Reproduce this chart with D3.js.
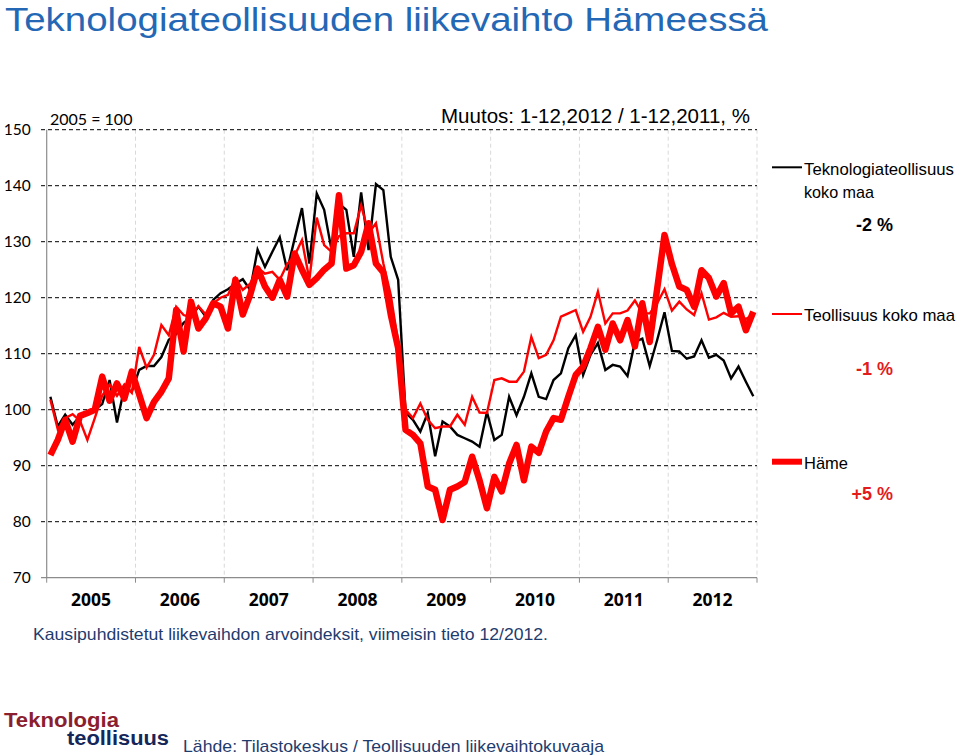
<!DOCTYPE html>
<html><head><meta charset="utf-8">
<script src="https://cdn.jsdelivr.net/npm/d3@7"></script>
<style>body{margin:0;background:#fff}svg{display:block}</style>
</head><body><svg id="c" width="960" height="756"></svg>
<script>
const years = [2005, 2006, 2007, 2008, 2009, 2010, 2011, 2012];
const yTicks = [70, 80, 90, 100, 110, 120, 130, 140, 150];
const months = years.flatMap(y => d3.range(1, 13).map(m => y + "-" + m));

const tek = [
  102.3, 97.0, 99.1, 97.3, 98.9, 99.5, 100.0, 101.0, 105.3, 97.7, 104.0, 103.2,
  107.1, 107.8, 107.8, 109.4, 112.5, 113.5, 115.5, 116.5, 118.4, 116.6, 119.6, 120.8,
  121.5, 122.5, 123.3, 121.4, 128.6, 125.5, 128.2, 130.8, 124.9, 130.5, 136.0, 126.1,
  138.6, 135.7, 128.5, 136.8, 135.7, 127.3, 138.8, 128.5, 140.3, 139.2, 127.3, 123.2,
  99.5, 98.2, 96.1, 99.4, 91.7, 97.9, 97.0, 95.5, 94.9, 94.3, 93.4, 99.6,
  94.6, 95.5, 102.3, 99.0, 102.3, 106.5, 102.3, 101.9, 105.3, 106.5, 111.0, 113.3,
  106.2, 109.8, 111.9, 107.1, 108.0, 107.7, 106.0, 112.1, 112.7, 107.8, 112.4, 117.4,
  110.5, 110.4, 109.1, 109.5, 112.4, 109.3, 109.8, 108.8, 105.6, 107.7, 105.0, 102.4
];
const teoll = [
  101.8, 96.5, 98.5, 99.2, 98.0, 94.6, 98.5, 102.5, 104.5, 102.5, 104.5, 103.0,
  111.2, 107.5, 109.8, 115.1, 113.3, 118.4, 116.9, 116.5, 118.5, 117.0, 119.0, 120.0,
  120.5, 123.5, 121.4, 122.5, 125.4, 124.3, 124.6, 123.2, 126.0, 127.5, 130.3, 123.2,
  134.3, 129.4, 128.2, 131.0, 131.5, 131.5, 136.5, 131.5, 133.3, 126.1, 120.5, 112.0,
  100.0, 98.5, 101.1, 98.2, 96.7, 97.0, 97.0, 99.1, 97.3, 102.3, 99.5, 99.4,
  105.3, 105.6, 105.0, 105.0, 106.8, 113.0, 109.2, 109.8, 112.4, 116.6, 117.2, 117.8,
  113.9, 116.6, 121.1, 115.4, 117.2, 117.2, 117.7, 119.5, 117.2, 117.2, 119.0, 121.5,
  117.7, 119.3, 117.9, 116.9, 120.8, 116.1, 116.5, 117.3, 116.6, 116.7, 116.2, 117.0
];
const hame = [
  91.9, 94.6, 98.2, 94.3, 98.9, 99.4, 100.0, 105.9, 101.6, 104.7, 102.0, 106.8,
  102.7, 98.5, 101.4, 103.2, 105.6, 117.8, 110.4, 119.3, 114.5, 116.3, 119.0, 118.4,
  114.5, 123.2, 117.0, 120.5, 125.2, 122.0, 120.0, 123.2, 120.2, 127.9, 125.0, 122.3,
  123.5, 125.0, 126.1, 138.3, 125.2, 125.8, 128.2, 133.3, 126.1, 124.5, 117.0, 111.0,
  96.4, 95.5, 94.0, 86.3, 85.7, 80.3, 85.7, 86.3, 87.1, 91.6, 87.4, 82.4,
  88.0, 85.4, 90.4, 93.7, 87.4, 93.4, 92.3, 96.1, 98.5, 98.2, 102.3, 106.2,
  107.7, 111.0, 114.8, 110.7, 115.4, 112.4, 116.0, 111.3, 119.0, 112.1, 121.5, 131.2,
  126.0, 122.0, 121.4, 118.4, 124.9, 123.5, 120.2, 122.6, 117.2, 118.4, 114.2, 117.5
];
const seriesNames = ["Teknologiateollisuus koko maa", "Teollisuus koko maa", "Häme"];
const changes = ["-2 %", "-1 %", "+5 %"];

const svg = d3.select("#c");
const L = 46.7, R = 757, T = 129.7, B = 577.7;
const x = d3.scalePoint().domain(months).range([L, R]).padding(0.5);
const xb = d3.scaleBand().domain(years).range([L, R]);
const y = d3.scaleLinear().domain([70, 150]).range([B, T]);

// title
svg.append("text").attr("x", 5).attr("y", 31).text("Teknologiateollisuuden liikevaihto Hämeessä")
  .attr("font-family", "Liberation Sans, Arial, sans-serif").attr("font-size", 33)
  .attr("fill", "#2468B5").attr("textLength", 763).attr("lengthAdjust", "spacingAndGlyphs");

// vertical year grid
svg.append("g").selectAll("line").data(years.slice(1).concat(["end"])).join("line")
  .attr("x1", d => d === "end" ? R : xb(d)).attr("x2", d => d === "end" ? R : xb(d))
  .attr("y1", T).attr("y2", B).attr("stroke", "#d9d9d9").attr("stroke-dasharray", "4,3").attr("stroke-width", 1);

// horizontal grid + y labels
const yAxis = svg.append("g").attr("transform", `translate(${L},0)`)
  .call(d3.axisLeft(y).tickValues(yTicks).tickSize(0).tickPadding(16));
yAxis.select(".domain").remove();
yAxis.selectAll("text").attr("font-family", "Lato, Carlito, sans-serif").attr("font-size", 15.5).attr("fill", "#000");
svg.append("g").selectAll("line").data(yTicks.filter(v => v > 70)).join("line")
  .attr("x1", 41).attr("x2", R).attr("y1", d => y(d)).attr("y2", d => y(d))
  .attr("stroke", "#000").attr("stroke-dasharray", "4,3").attr("stroke-width", 1);

// axes lines
svg.append("line").attr("x1", L).attr("x2", L).attr("y1", T).attr("y2", B).attr("stroke", "#8c8c8c").attr("stroke-width", 1.2);
svg.append("line").attr("x1", 41).attr("x2", R).attr("y1", B).attr("y2", B).attr("stroke", "#8c8c8c").attr("stroke-width", 1.2);
svg.append("g").selectAll("line").data(years.concat(["end"])).join("line")
  .attr("x1", d => d === "end" ? R : xb(d)).attr("x2", d => d === "end" ? R : xb(d))
  .attr("y1", B).attr("y2", B + 5).attr("stroke", "#8c8c8c");

// year labels
const xAxis = svg.append("g").attr("transform", `translate(0,${B})`)
  .call(d3.axisBottom(xb).tickSize(0).tickPadding(16));
xAxis.select(".domain").remove();
xAxis.selectAll("text").attr("font-family", "Open Sans, Lato, sans-serif").attr("font-weight", "bold")
  .attr("font-size", 17.5).attr("fill", "#000");

// lines
const line = d3.line().x((d, i) => x(months[i])).y(d => y(d));
svg.append("path").datum(tek).attr("d", line).attr("fill", "none").attr("stroke", "#000").attr("stroke-width", 2.4).attr("stroke-linejoin", "miter");
svg.append("path").datum(teoll).attr("d", line).attr("fill", "none").attr("stroke", "#ff0000").attr("stroke-width", 2.4).attr("stroke-linejoin", "miter");
svg.append("path").datum(hame).attr("d", line).attr("fill", "none").attr("stroke", "#ff0000").attr("stroke-width", 6.5).attr("stroke-linejoin", "round");

// texts in plot
svg.append("text").attr("x", 50).attr("y", 125).text("2005 = 100")
  .attr("font-family", "Lato, Carlito, sans-serif").attr("font-size", 16).attr("fill", "#000");
svg.append("text").attr("x", 441).attr("y", 123).text("Muutos: 1-12,2012 / 1-12,2011, %")
  .attr("font-family", "Liberation Sans, Arial, sans-serif").attr("font-size", 20.5).attr("fill", "#000")
  .attr("textLength", 309).attr("lengthAdjust", "spacingAndGlyphs");

// legend
const lg = svg.append("g").attr("font-family", "Liberation Sans, Arial, sans-serif");
const leg = [
  {ly: 167.3, col: "#000", w: 2, lines: ["Teknologiateollisuus", "koko maa"], tw: [150, 70], ty: 175, cy: 231, cc: "#000"},
  {ly: 314, col: "#ff0000", w: 2, lines: ["Teollisuus koko maa"], tw: [151], ty: 321, cy: 375, cc: "#e31b1b"},
  {ly: 461.7, col: "#ff0000", w: 6, lines: ["Häme"], tw: [44], ty: 468.5, cy: 499.5, cc: "#e31b1b"}
];
leg.forEach((d, k) => {
  lg.append("line").attr("x1", 772).attr("x2", 802).attr("y1", d.ly).attr("y2", d.ly).attr("stroke", d.col).attr("stroke-width", d.w);
  d.lines.forEach((t, j) => {
    lg.append("text").attr("x", 804).attr("y", d.ty + j * 23).text(t).attr("font-size", 17).attr("fill", "#000")
      .attr("textLength", d.tw[j]).attr("lengthAdjust", "spacingAndGlyphs");
  });
  lg.append("text").attr("x", 893).attr("y", d.cy).attr("text-anchor", "end").text(changes[k])
    .attr("font-size", 18).attr("font-weight", "bold").attr("fill", d.cc);
});

// caption and footer
svg.append("text").attr("x", 33).attr("y", 640).text("Kausipuhdistetut liikevaihdon arvoindeksit, viimeisin tieto 12/2012.")
  .attr("font-family", "Liberation Sans, Arial, sans-serif").attr("font-size", 16.5).attr("fill", "#1f3c6e")
  .attr("textLength", 515).attr("lengthAdjust", "spacingAndGlyphs");
svg.append("text").attr("x", 4).attr("y", 727).text("Teknologia")
  .attr("font-family", "Liberation Sans, Arial, sans-serif").attr("font-weight", "bold").attr("font-size", 20)
  .attr("fill", "#8b1e2f").attr("textLength", 115).attr("lengthAdjust", "spacingAndGlyphs");
svg.append("text").attr("x", 67).attr("y", 745).text("teollisuus")
  .attr("font-family", "Liberation Sans, Arial, sans-serif").attr("font-weight", "bold").attr("font-size", 20)
  .attr("fill", "#15275a").attr("textLength", 102).attr("lengthAdjust", "spacingAndGlyphs");
svg.append("text").attr("x", 183).attr("y", 752).text("Lähde: Tilastokeskus / Teollisuuden liikevaihtokuvaaja")
  .attr("font-family", "Liberation Sans, Arial, sans-serif").attr("font-size", 17).attr("fill", "#1f3c6e")
  .attr("textLength", 421).attr("lengthAdjust", "spacingAndGlyphs");
</script></body></html>
